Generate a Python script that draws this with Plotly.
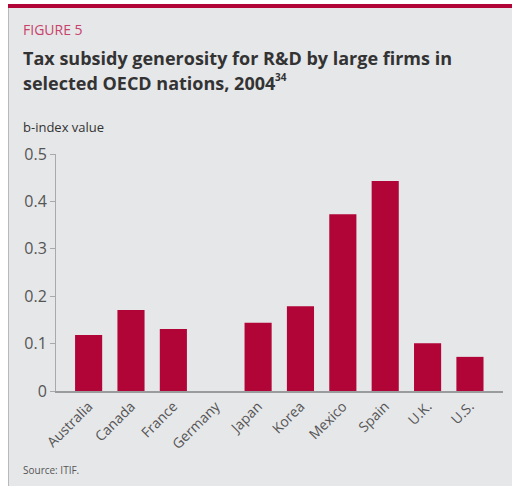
import plotly.graph_objects as go

countries = ["Australia", "Canada", "France", "Germany", "Japan", "Korea",
             "Mexico", "Spain", "U.K.", "U.S."]
b_index = [0.118, 0.171, 0.131, 0.0, 0.144, 0.179, 0.373, 0.443, 0.101, 0.072]
y_ticks = [0, 0.1, 0.2, 0.3, 0.4, 0.5]
y_ticklabels = ["0", "0.1", "0.2", "0.3", "0.4", "0.5"]

W, H = 512, 486
L, R, T, B = 56, 9, 154, 95
PW, PH = W - L - R, H - T - B

def px(x):
    return (x - L) / PW

def py(y):
    return (H - B - y) / PH

BG = "#e6e7e9"
RED = "#b10537"
FONT = "Open Sans"

fig = go.Figure(go.Bar(
    x=countries, y=b_index, marker_color=RED, marker_line_width=0,
))

shapes = [
    dict(type="rect", xref="paper", yref="paper", x0=px(0), x1=px(8), y0=py(0), y1=py(H),
         fillcolor="white", line_width=0, layer="below"),
    dict(type="rect", xref="paper", yref="paper", x0=px(0), x1=px(W), y0=py(0), y1=py(4),
         fillcolor="white", line_width=0, layer="below"),
    dict(type="rect", xref="paper", yref="paper", x0=px(8), x1=px(W), y0=py(4), y1=py(8),
         fillcolor=RED, line_width=0, layer="below"),
    dict(type="line", xref="paper", yref="paper", x0=px(8.5), x1=px(8.5), y0=py(8), y1=py(H),
         line=dict(color="#b8b9bb", width=1), layer="below"),
]

annotations = [
    dict(text="FIGURE 5", x=px(21), y=py(30), xref="paper", yref="paper",
         xanchor="left", yanchor="middle", showarrow=False,
         font=dict(family=FONT, size=14, color="#c8426a")),
    dict(text="<b>Tax subsidy generosity for R&D by large firms in</b>",
         x=px(21), y=py(58), xref="paper", yref="paper", align="left",
         xanchor="left", yanchor="middle", showarrow=False,
         font=dict(family=FONT, size=18, color="#333333")),
    dict(text="<b>selected OECD nations, 2004</b>",
         x=px(21), y=py(83), xref="paper", yref="paper", align="left",
         xanchor="left", yanchor="middle", showarrow=False,
         font=dict(family=FONT, size=18, color="#333333")),
    dict(text="<b>34</b>",
         x=px(273), y=py(77), xref="paper", yref="paper", align="left",
         xanchor="left", yanchor="middle", showarrow=False,
         font=dict(family=FONT, size=10, color="#333333")),
    dict(text="b-index value", x=px(21), y=py(127), xref="paper", yref="paper",
         xanchor="left", yanchor="middle", showarrow=False,
         font=dict(family=FONT, size=13, color="#333333")),
    dict(text="Source: ITIF.", x=px(21), y=py(470), xref="paper", yref="paper",
         xanchor="left", yanchor="middle", showarrow=False,
         font=dict(family=FONT, size=10, color="#555555")),
]

fig.update_layout(
    width=W, height=H,
    margin=dict(l=L, r=R, t=T, b=B, pad=0),
    paper_bgcolor=BG, plot_bgcolor=BG,
    bargap=0.36,
    showlegend=False,
    shapes=shapes,
    annotations=annotations,
    xaxis=dict(
        type="category", range=[-0.77, 9.78], showgrid=False,
        showline=True, linecolor="#9a9b9d", linewidth=1.5,
        ticks="", tickangle=-45,
        tickfont=dict(family=FONT, size=14, color="#555555"),
    ),
    yaxis=dict(
        range=[0, 0.5], tickvals=y_ticks, ticktext=y_ticklabels,
        showgrid=False, zeroline=False,
        showline=True, linecolor="#a8a9ab", linewidth=1,
        ticks="outside", ticklen=5, tickcolor="#a8a9ab",
        tickfont=dict(family=FONT, size=16, color="#555555"),
    ),
)

fig.write_html("out.html")
